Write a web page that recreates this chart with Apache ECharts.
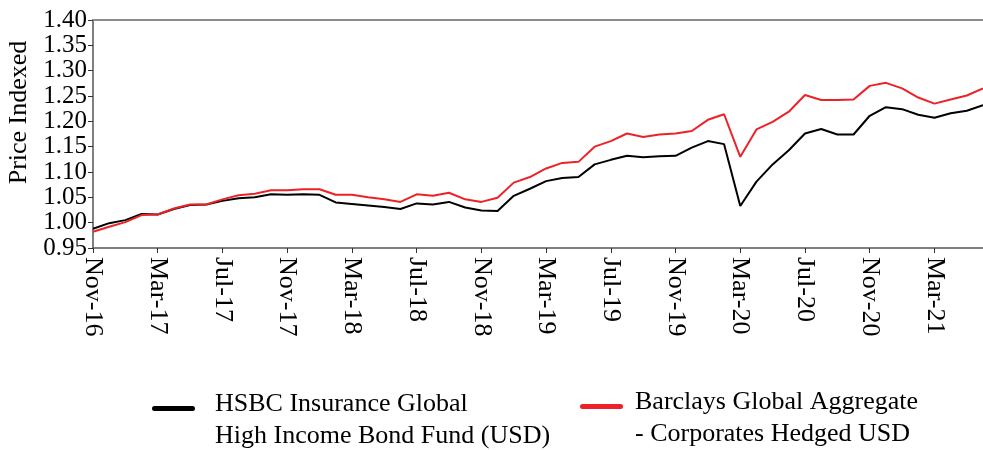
<!DOCTYPE html>
<html>
<head>
<meta charset="utf-8">
<script src="https://cdn.jsdelivr.net/npm/echarts@6/dist/echarts.min.js"></script>
<style>
    html, body { margin: 0; padding: 0; background: #fff; }
    #priceChart { width: 983px; height: 450px; }
</style>
</head>
<body>
<div id="priceChart"></div>
<script>
// months, Nov-16 .. Jun-21
var months = [
    'Nov-16', 'Dec-16',
    'Jan-17', 'Feb-17', 'Mar-17', 'Apr-17', 'May-17', 'Jun-17', 'Jul-17', 'Aug-17', 'Sep-17', 'Oct-17', 'Nov-17', 'Dec-17',
    'Jan-18', 'Feb-18', 'Mar-18', 'Apr-18', 'May-18', 'Jun-18', 'Jul-18', 'Aug-18', 'Sep-18', 'Oct-18', 'Nov-18', 'Dec-18',
    'Jan-19', 'Feb-19', 'Mar-19', 'Apr-19', 'May-19', 'Jun-19', 'Jul-19', 'Aug-19', 'Sep-19', 'Oct-19', 'Nov-19', 'Dec-19',
    'Jan-20', 'Feb-20', 'Mar-20', 'Apr-20', 'May-20', 'Jun-20', 'Jul-20', 'Aug-20', 'Sep-20', 'Oct-20', 'Nov-20', 'Dec-20',
    'Jan-21', 'Feb-21', 'Mar-21', 'Apr-21', 'May-21', 'Jun-21'
];

var fundName = 'HSBC Insurance Global\nHigh Income Bond Fund (USD)';
var benchName = 'Barclays Global Aggregate\n- Corporates Hedged USD';

// HSBC fund, price indexed
var fundValues = [
    0.988, 0.999,
    1.005, 1.017, 1.016, 1.027, 1.035, 1.036, 1.043, 1.048, 1.050, 1.056, 1.055, 1.056,
    1.055, 1.040, 1.037, 1.034, 1.031, 1.027, 1.038, 1.036, 1.041, 1.030, 1.024, 1.023,
    1.053, 1.067, 1.082, 1.088, 1.090, 1.115, 1.124, 1.132, 1.129, 1.131, 1.132, 1.148,
    1.161, 1.155, 1.033, 1.081, 1.115, 1.143, 1.176, 1.185, 1.174, 1.174, 1.211, 1.228,
    1.224, 1.213, 1.207, 1.216, 1.221, 1.232
];

// Barclays benchmark, price indexed
var benchValues = [
    0.982, 0.992,
    1.001, 1.015, 1.016, 1.028, 1.036, 1.036, 1.046, 1.054, 1.057, 1.064, 1.064, 1.066,
    1.066, 1.055, 1.055, 1.050, 1.046, 1.041, 1.056, 1.053, 1.059, 1.046, 1.041, 1.049,
    1.079, 1.090, 1.107, 1.118, 1.120, 1.150, 1.161, 1.176, 1.169, 1.174, 1.176, 1.181,
    1.203, 1.214, 1.130, 1.184, 1.199, 1.219, 1.252, 1.242, 1.242, 1.243, 1.270, 1.276,
    1.265, 1.247, 1.235, 1.243, 1.251, 1.265
];

var serif = 'Liberation Serif';

var priceChart = echarts.init(document.getElementById('priceChart'));

var legendText = {
    fontFamily: serif,
    fontSize: 26,
    lineHeight: 32,
    color: '#000'
};

var option = {
    animation: false,
    grid: {
        left: 93,
        right: 0,
        top: 20,
        bottom: 202,
        outerBoundsMode: 'none'
    },
    legend: [{
        left: 152,
        top: 388,
        padding: 0,
        itemWidth: 58,
        itemHeight: 28,
        icon: 'path://M2.5,0H40.5A2.5,2.5,0,0,1,40.5,5H2.5A2.5,2.5,0,0,1,2.5,0Z M58,28L58,28',
        itemStyle: { borderWidth: 0 },
        lineStyle: { width: 0 },
        textStyle: legendText,
        data: [fundName]
    }, {
        left: 580,
        top: 386,
        padding: 0,
        itemWidth: 50,
        itemHeight: 28,
        icon: 'path://M2.5,0H40.5A2.5,2.5,0,0,1,40.5,5H2.5A2.5,2.5,0,0,1,2.5,0Z M50,28L50,28',
        itemStyle: { borderWidth: 0 },
        lineStyle: { width: 0 },
        textStyle: legendText,
        data: [benchName]
    }],
    xAxis: [{
        type: 'category',
        boundaryGap: false,
        data: months,
        axisLine: {
            lineStyle: { color: '#555', width: 1.5 }
        },
        axisTick: {
            interval: 3,
            length: 5,
            lineStyle: { color: '#333' }
        },
        axisLabel: {
            interval: 3,
            rotate: -90,
            margin: 9,
            color: '#000',
            fontFamily: serif,
            fontSize: 26
        }
    }, {
        // grey frame line along the top
        type: 'category',
        position: 'top',
        boundaryGap: false,
        data: months,
        axisLine: {
            lineStyle: { color: '#8c8c8c', width: 2 }
        },
        axisTick: { show: false },
        axisLabel: { show: false }
    }],
    yAxis: {
        type: 'value',
        min: 0.95,
        max: 1.40,
        interval: 0.05,
        name: 'Price Indexed',
        nameLocation: 'middle',
        nameGap: 58,
        nameTextStyle: {
            fontFamily: serif,
            fontSize: 26,
            color: '#000',
            padding: [0, 0, 0, 43]
        },
        axisLine: {
            show: true,
            lineStyle: { color: '#555', width: 1.5 }
        },
        axisTick: {
            show: true,
            length: 5,
            lineStyle: { color: '#333' }
        },
        splitLine: { show: false },
        axisLabel: {
            margin: 6,
            color: '#000',
            fontFamily: serif,
            fontSize: 25,
            formatter: function (v) {
                return v.toFixed(2);
            }
        }
    },
    series: [{
        name: fundName,
        type: 'line',
        symbol: 'none',
        data: fundValues,
        itemStyle: { color: '#000' },
        lineStyle: { color: '#000', width: 2 }
    }, {
        name: benchName,
        type: 'line',
        symbol: 'none',
        data: benchValues,
        itemStyle: { color: '#ec2228' },
        lineStyle: { color: '#ec2228', width: 2 }
    }]
};

priceChart.setOption(option);
</script>
</body>
</html>
